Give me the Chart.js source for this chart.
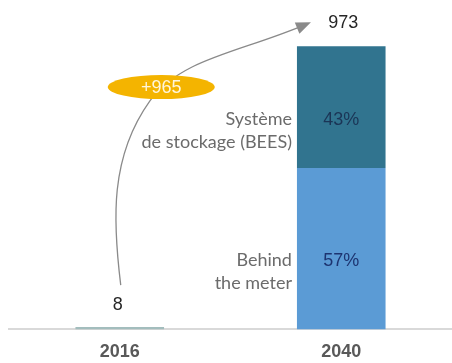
<!DOCTYPE html>
<html>
<head>
<meta charset="utf-8">
<script src="https://cdn.jsdelivr.net/npm/chart.js@4.4.1/dist/chart.umd.min.js"></script>
<style>
  html, body { margin: 0; padding: 0; background: #fff; }
  #wrap { width: 452px; height: 363px; position: relative; }
</style>
</head>
<body>
<div id="wrap"><canvas id="chart"></canvas></div>
<script>
// Storage capacity by year, split by segment for 2040
const YEARS = ["2016", "2040"];
const TOTAL_2016 = [8, null];
const BEHIND_METER = [null, 555];
const BEES = [null, 418];
const SHARE_LABELS = ["57%", "43%"];           // behind the meter, BEES
const SEGMENT_NAMES = [
  ["Behind", "the meter"],
  ["Système", "de stockage (BEES)"],
];

const NUM_FONT = '"Liberation Sans", Arial, sans-serif';
const TEXT_FONT = 'Lato, "Open Sans", sans-serif';

function totalAt(i) {
  return [TOTAL_2016, BEHIND_METER, BEES].reduce((s, arr) => s + (arr[i] || 0), 0);
}

// Totals, segment shares, segment names and the growth arrow
const annotations = {
  id: "annotations",
  afterDatasetsDraw(chart) {
    const ctx = chart.ctx;
    const m0 = chart.getDatasetMeta(0).data;
    const m1 = chart.getDatasetMeta(1).data;
    const m2 = chart.getDatasetMeta(2).data;
    ctx.save();

    // totals above each bar
    ctx.font = "18px " + NUM_FONT;
    ctx.fillStyle = "#262626";
    ctx.textAlign = "center";
    ctx.textBaseline = "alphabetic";
    const top0 = m0[0];
    const top1 = m2[1];
    ctx.fillText(String(totalAt(0)), top0.x - 2, top0.y - 17);
    ctx.fillText(String(totalAt(1)), top1.x + 2, top1.y - 18);

    // shares inside the 2040 segments + names on the left
    [[m1[1], "#1d3470"], [m2[1], "#1b3556"]].forEach(([el, col], k) => {
      const cy = (el.y + el.base) / 2 + 11;
      const baseY = cy + 6.5;
      ctx.font = "18px " + NUM_FONT;
      ctx.fillStyle = col;
      ctx.textAlign = "center";
      ctx.fillText(SHARE_LABELS[k], el.x, baseY);

      ctx.font = "18px " + TEXT_FONT;
      ctx.fillStyle = "#6b6b6b";
      ctx.textAlign = "right";
      const rx = el.x - el.width / 2 - 5;
      SEGMENT_NAMES[k].forEach((line, j) => ctx.fillText(line, rx, baseY + j * 23));
    });

    // growth arrow from the 2016 total to the 2040 total
    const S = { x: top0.x + 1, y: top0.y - 42 };
    const E = { x: top1.x - top1.width / 2 + 14, y: top1.y - 24 };
    const M = { x: S.x + 29, y: S.y - 184 };
    ctx.strokeStyle = "#8a8a8a";
    ctx.lineWidth = 1.3;
    ctx.beginPath();
    ctx.moveTo(S.x, S.y);
    ctx.bezierCurveTo(S.x - 8, S.y - 65, S.x - 11, S.y - 128, M.x, M.y);
    ctx.bezierCurveTo(M.x + 30, M.y - 42, E.x - 72, E.y + 30, E.x - 10, E.y + 4);
    ctx.stroke();

    const ang = Math.atan2(-5, 12);
    ctx.fillStyle = "#8a8a8a";
    ctx.beginPath();
    ctx.moveTo(E.x, E.y);
    ctx.lineTo(E.x - 15 * Math.cos(ang) + 6 * Math.sin(ang), E.y - 15 * Math.sin(ang) - 6 * Math.cos(ang));
    ctx.lineTo(E.x - 15 * Math.cos(ang) - 6 * Math.sin(ang), E.y - 15 * Math.sin(ang) + 6 * Math.cos(ang));
    ctx.closePath();
    ctx.fill();

    // growth badge
    const cx = S.x + 40.5, cyB = S.y - 198;
    ctx.fillStyle = "#f4b400";
    ctx.beginPath();
    ctx.ellipse(cx, cyB, 53.5, 12, 0, 0, Math.PI * 2);
    ctx.fill();
    ctx.font = "18px " + NUM_FONT;
    ctx.fillStyle = "#fff6dc";
    ctx.textAlign = "center";
    ctx.textBaseline = "middle";
    ctx.fillText("+" + (totalAt(1) - totalAt(0)), cx, cyB + 1);

    ctx.restore();
  }
};

new Chart(document.getElementById("chart"), {
  type: "bar",
  data: {
    labels: YEARS,
    datasets: [
      { label: "Total", data: TOTAL_2016, backgroundColor: "#a3bdbd" },
      { label: "Behind the meter", data: BEHIND_METER, backgroundColor: "#5b9bd5" },
      { label: "Système de stockage (BEES)", data: BEES, backgroundColor: "#31748f" },
    ],
  },
  options: {
    responsive: true,
    maintainAspectRatio: false,
    animation: false,
    // tick padding is counted twice in the axis height, so give one back
    layout: { padding: { top: 38.5, left: 9, right: 0, bottom: -12 } },
    plugins: { legend: { display: false }, tooltip: { enabled: false } },
    datasets: { bar: { barPercentage: 0.4, categoryPercentage: 1 } },
    scales: {
      x: {
        stacked: true,
        grid: { display: false, drawTicks: false },
        border: { display: true, color: "#d9d9d9", width: 2 },
        ticks: {
          padding: 12,
          color: "#595959",
          font: { family: NUM_FONT, size: 18, weight: "bold" },
        },
      },
      y: { stacked: true, display: false, min: 0, max: 1000 },
    },
  },
  plugins: [annotations],
});
</script>
</body>
</html>
